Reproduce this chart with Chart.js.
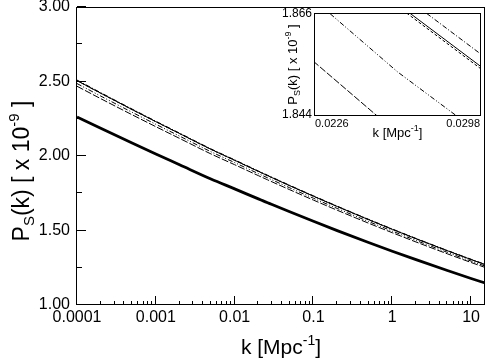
<!DOCTYPE html>
<html><head><meta charset="utf-8">
<script src="https://cdn.jsdelivr.net/npm/chart.js@4/dist/chart.umd.min.js"></script>
<style>
html,body{margin:0;padding:0;background:#fff;}
#wrap{position:relative;width:487px;height:361px;overflow:hidden;}
#main{position:absolute;left:0;top:0;}
#inset{position:absolute;left:270px;top:0;}
</style></head><body>
<div id="wrap"><canvas id="main" width="487" height="361"></canvas><canvas id="inset" width="217" height="145"></canvas></div>
<script>
// wavenumber k [Mpc^-1]
const kValues = [0.0001, 0.0002, 0.0005, 0.001, 0.002, 0.005, 0.01, 0.02, 0.0226, 0.0262, 0.0298, 0.05, 0.1, 0.2, 0.5, 1, 2, 5, 10, 15];
// P_S(k) in units of 1e-9
const thickCurve = [2.2620, 2.1857, 2.0867, 2.0132, 1.9412, 1.8458, 1.7794, 1.7121, 1.7004, 1.6863, 1.6740, 1.6254, 1.5617, 1.4994, 1.4196, 1.3610, 1.3041, 1.2312, 1.1779, 1.1475];
const dashDotCurve = [2.5097, 2.4250, 2.3151, 2.2337, 2.1538, 2.0480, 1.9742, 1.8995, 1.8866, 1.8709, 1.8574, 1.8034, 1.7327, 1.6636, 1.5751, 1.5101, 1.4469, 1.3660, 1.3069, 1.2731];
const solidCurve = [2.5061, 2.4215, 2.3118, 2.2305, 2.1507, 2.0451, 1.9714, 1.8968, 1.8839, 1.8682, 1.8547, 1.8008, 1.7302, 1.6612, 1.5728, 1.5079, 1.4448, 1.3641, 1.3050, 1.2713];
const dashedCurve = [2.5054, 2.4208, 2.3112, 2.2299, 2.1501, 2.0445, 1.9708, 1.8963, 1.8833, 1.8677, 1.8542, 1.8003, 1.7297, 1.6608, 1.5724, 1.5075, 1.4444, 1.3637, 1.3047, 1.2710];
const dashDotDotCurve = [2.4862, 2.4023, 2.2935, 2.2128, 2.1336, 2.0288, 1.9557, 1.8818, 1.8689, 1.8534, 1.8400, 1.7865, 1.7165, 1.6481, 1.5603, 1.4960, 1.4333, 1.3532, 1.2947, 1.2612];
const longDashCurve = [2.4682, 2.3849, 2.2769, 2.1968, 2.1182, 2.0141, 1.9416, 1.8681, 1.8554, 1.8400, 1.8266, 1.7736, 1.7040, 1.6361, 1.5490, 1.4851, 1.4229, 1.3434, 1.2853, 1.2521];

const xTickValues = [0.0001, 0.001, 0.01, 0.1, 1, 10];
const xTickLabels = ['0.0001', '0.001', '0.01', '0.1', '1', '10'];
const yTickValues = [1.0, 1.5, 2.0, 2.5, 3.0];
const yTickLabels = ['1.00', '1.50', '2.00', '2.50', '3.00'];
const insetXTicks = [0.0226, 0.0298];
const insetXLabels = ['0.0226', '0.0298'];
const insetYTicks = [1.844, 1.866];
const insetYLabels = ['1.844', '1.866'];

const FONT = "'Liberation Sans', Arial, Helvetica, sans-serif";

function pts(arr) { return kValues.map((k, i) => ({x: k, y: arr[i]})); }
function makeDatasets(smooth) {
  const base = {borderColor: '#000', pointRadius: 0, tension: 0};
  if (smooth) base.cubicInterpolationMode = 'monotone';
  return [
    Object.assign({data: pts(thickCurve), borderWidth: 2.8}, base),
    Object.assign({data: pts(dashDotCurve), borderWidth: 1, borderDash: [5, 2, 1, 2]}, base),
    Object.assign({data: pts(solidCurve), borderWidth: 1}, base),
    Object.assign({data: pts(dashedCurve), borderWidth: 1, borderDash: [3, 2]}, base),
    Object.assign({data: pts(dashDotDotCurve), borderWidth: 1, borderDash: [5, 2, 1, 2, 1, 2]}, base),
    Object.assign({data: pts(longDashCurve), borderWidth: 1, borderDash: [7, 2]}, base)
  ];
}
function findLabel(vals, labels, v) {
  for (let i = 0; i < vals.length; i++) if (Math.abs(vals[i] - v) / Math.abs(vals[i]) < 1e-6) return labels[i];
  return '';
}
function drawRich(ctx, parts, cx, baseY) {
  let total = 0;
  parts.forEach(p => { ctx.font = p.s + 'px ' + FONT; p.w = ctx.measureText(p.t).width; total += p.w; });
  let x = cx - total / 2;
  ctx.textAlign = 'left';
  ctx.textBaseline = 'alphabetic';
  parts.forEach(p => { ctx.font = p.s + 'px ' + FONT; ctx.fillText(p.t, x, baseY + (p.dy || 0)); x += p.w; });
}
function noPad(s) { s.paddingTop = 0; s.paddingBottom = 0; s.paddingLeft = 0; s.paddingRight = 0; }

const mainDecor = {
  id: 'mainDecor',
  afterDraw(chart) {
    const ctx = chart.ctx, a = chart.chartArea;
    const xs = chart.scales.x, ys = chart.scales.y;
    ctx.save();
    ctx.strokeStyle = '#000';
    ctx.lineWidth = 1;
    ctx.beginPath();
    xs.ticks.forEach(t => {
      const v = t.value;
      const e = Math.floor(Math.log10(v) + 1e-9);
      const m = v / Math.pow(10, e);
      if (Math.abs(m - Math.round(m)) > 1e-6) return;
      const px = Math.round(xs.getPixelForValue(v)) - 0.5;
      if (px < a.left || px > a.right) return;
      const len = Math.round(m) === 1 ? 9 : 4;
      ctx.moveTo(px, a.bottom); ctx.lineTo(px, a.bottom - len);
    });
    ys.ticks.forEach(t => {
      const v = t.value;
      const py = Math.round(ys.getPixelForValue(v)) - 0.5;
      const major = Math.abs(v * 2 - Math.round(v * 2)) < 1e-6;
      const len = major ? 9 : 5;
      ctx.moveTo(a.left, py); ctx.lineTo(a.left + len, py);
    });
    ctx.stroke();
    ctx.strokeRect(a.left - 0.5, a.top + 0.5, a.right - a.left, a.bottom - a.top - 1);
    ctx.fillStyle = '#000';
    // x title
    drawRich(ctx, [{t: 'k [Mpc', s: 21}, {t: '-1', s: 14, dy: -9}, {t: ']', s: 21}], (a.left + a.right) / 2, 354);
    // y title
    ctx.translate(29, 171);
    ctx.rotate(-Math.PI / 2);
    drawRich(ctx, [{t: 'P', s: 23}, {t: 'S', s: 15, dy: 5}, {t: '(k) [ x 10', s: 23}, {t: '-9', s: 15, dy: -10}, {t: ' ]', s: 23}], 0, 0);
    ctx.restore();
  }
};

new Chart(document.getElementById('main'), {
  type: 'line',
  data: {datasets: makeDatasets(true)},
  options: {
    responsive: false, animation: false, devicePixelRatio: 1,
    layout: {padding: {left: 0, right: 2, top: 7, bottom: 0}},
    plugins: {legend: {display: false}, tooltip: {enabled: false}},
    scales: {
      x: {
        type: 'logarithmic', min: 0.0001, max: 15,
        grid: {display: false, drawTicks: false}, border: {display: false},
        ticks: {color: '#000', font: {family: FONT, size: 16, lineHeight: 1}, padding: 5, maxRotation: 0, autoSkip: false,
          callback: (v) => findLabel(xTickValues, xTickLabels, v)},
        afterFit: (s) => { s.height = 56; noPad(s); }
      },
      y: {
        type: 'linear', min: 1, max: 3,
        grid: {display: false, drawTicks: false}, border: {display: false},
        ticks: {color: '#000', stepSize: 0.25, font: {family: FONT, size: 16, lineHeight: 1}, padding: 7, autoSkip: false,
          callback: (v) => findLabel(yTickValues, yTickLabels, v)},
        afterFit: (s) => { s.width = 77; noPad(s); }
      }
    }
  },
  plugins: [mainDecor]
});

const insetDecor = {
  id: 'insetDecor',
  afterDraw(chart) {
    const ctx = chart.ctx, a = chart.chartArea;
    ctx.save();
    ctx.strokeStyle = '#000';
    ctx.lineWidth = 1;
    ctx.strokeRect(a.left - 0.5, a.top - 0.5, a.right - a.left + 1, a.bottom - a.top + 1);
    ctx.fillStyle = '#000';
    drawRich(ctx, [{t: 'k [Mpc', s: 13}, {t: '-1', s: 9, dy: -6}, {t: ']', s: 13}], (a.left + a.right) / 2, 137);
    ctx.translate(27, (a.top + a.bottom) / 2);
    ctx.rotate(-Math.PI / 2);
    drawRich(ctx, [{t: 'P', s: 13}, {t: 'S', s: 9, dy: 3}, {t: '(k) [ x 10', s: 13}, {t: '-9', s: 9, dy: -6}, {t: ' ]', s: 13}], 0, 0);
    ctx.restore();
  }
};

new Chart(document.getElementById('inset'), {
  type: 'line',
  data: {datasets: makeDatasets(false)},
  options: {
    responsive: false, animation: false, devicePixelRatio: 1,
    layout: {padding: {left: 0, right: 7, top: 14, bottom: 0}},
    plugins: {legend: {display: false}, tooltip: {enabled: false}},
    scales: {
      x: {
        type: 'linear', min: 0.0226, max: 0.0298,
        grid: {display: false, drawTicks: false}, border: {display: false},
        afterBuildTicks: (s) => { s.ticks = insetXTicks.map(v => ({value: v})); },
        ticks: {color: '#000', align: 'inner', font: {family: FONT, size: 11, lineHeight: 1}, padding: 3, maxRotation: 0, autoSkip: false,
          callback: (v) => findLabel(insetXTicks, insetXLabels, v)},
        afterFit: (s) => { s.height = 30; noPad(s); }
      },
      y: {
        type: 'linear', min: 1.844, max: 1.866,
        grid: {display: false, drawTicks: false}, border: {display: false},
        afterBuildTicks: (s) => { s.ticks = insetYTicks.map(v => ({value: v})); },
        ticks: {color: '#000', font: {family: FONT, size: 12, lineHeight: 1}, padding: 3, autoSkip: false,
          callback: (v) => findLabel(insetYTicks, insetYLabels, v)},
        afterFit: (s) => { s.width = 45; noPad(s); }
      }
    }
  },
  plugins: [insetDecor]
});
</script>
</body></html>
